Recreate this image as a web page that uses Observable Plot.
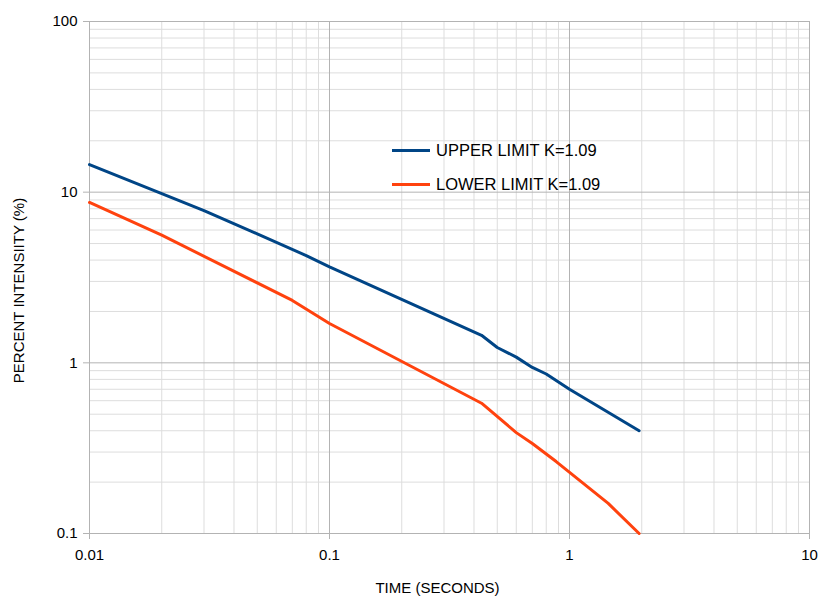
<!DOCTYPE html>
<html>
<head>
<meta charset="utf-8">
<script src="https://cdn.jsdelivr.net/npm/d3@7"></script>
<script src="https://cdn.jsdelivr.net/npm/@observablehq/plot@0.6"></script>
<style>
  body { margin: 0; background: #fff; }
  #wrap { position: relative; width: 818px; height: 599px; font-family: "Liberation Sans", Arial, sans-serif; }
  #legend { position: absolute; left: 392px; top: 140px; font-size: 16.5px; color: #000; }
  #legend .row { display: flex; align-items: center; height: 20px; margin-bottom: 14px; }
  #legend .sw { width: 38px; height: 3px; margin-right: 6px; }
</style>
</head>
<body>
<div id="wrap"></div>
<script>
const seriesNames = ["UPPER LIMIT K=1.09", "LOWER LIMIT K=1.09"];
const seriesColors = ["#004586", "#ff420e"];
const upperTime = [0.01, 0.02, 0.03, 0.05, 0.08, 0.1, 0.43, 0.5, 0.6, 0.7, 0.8, 1.0, 1.95];
const upperPct  = [14.5, 9.8, 7.8, 5.7, 4.25, 3.65, 1.45, 1.23, 1.08, 0.94, 0.86, 0.70, 0.40];
const lowerTime = [0.01, 0.02, 0.07, 0.1, 0.43, 0.6, 0.7, 0.88, 1.45, 1.95];
const lowerPct  = [8.7, 5.6, 2.32, 1.70, 0.58, 0.39, 0.337, 0.264, 0.15, 0.1];
const xTicks = [0.01, 0.1, 1, 10];
const yTicks = [0.1, 1, 10, 100];
const xTitle = "TIME (SECONDS)";
const yTitle = "PERCENT INTENSIITY (%)";

const data = [
  ...upperTime.map((t, i) => ({series: seriesNames[0], t, p: upperPct[i]})),
  ...lowerTime.map((t, i) => ({series: seriesNames[1], t, p: lowerPct[i]}))
];

function minors(ticks) {
  const out = [];
  for (let i = 0; i < ticks.length - 1; i++)
    for (let k = 2; k <= 9; k++) out.push(ticks[i] * k);
  return out;
}
const xMinor = minors(xTicks), yMinor = minors(yTicks);
const font = "Liberation Sans, Arial, sans-serif";

const chart = Plot.plot({
  width: 818,
  height: 599,
  marginLeft: 89,
  marginTop: 21,
  marginRight: 9,
  marginBottom: 66,
  style: {fontFamily: font, background: "#fff", overflow: "visible"},
  x: {type: "log", domain: [0.01, 10]},
  y: {type: "log", domain: [0.1, 100]},
  color: {domain: seriesNames, range: seriesColors},
  marks: [
    Plot.ruleX(xMinor, {stroke: "#dddddd", strokeWidth: 1}),
    Plot.ruleY(yMinor, {stroke: "#dddddd", strokeWidth: 1}),
    Plot.ruleX(xTicks, {stroke: "#b3b3b3", strokeWidth: 1}),
    Plot.ruleY(yTicks, {stroke: "#b3b3b3", strokeWidth: 1}),
    Plot.axisX({ticks: xTicks, tickFormat: d => String(d), tickSize: 6, tickPadding: 10, fontSize: 15, stroke: "#b3b3b3", color: "#000", label: null}),
    Plot.axisY({ticks: yTicks, tickFormat: d => String(d), tickSize: 6, tickPadding: 6, fontSize: 15, stroke: "#b3b3b3", color: "#000", label: null}),
    Plot.line(data, {x: "t", y: "p", stroke: "series", strokeWidth: 3, z: "series"}),
    Plot.text([xTitle], {frameAnchor: "bottom", textAnchor: "middle", dx: -12, dy: 59, fontSize: 15, fill: "#000"}),
    Plot.text([yTitle], {frameAnchor: "left", textAnchor: "middle", dx: -70, dy: 13, rotate: -90, fontSize: 15, fill: "#000"})
  ]
});
const wrap = document.getElementById("wrap");
wrap.appendChild(chart);
const legend = document.createElement("div");
legend.id = "legend";
seriesNames.forEach((n, i) => {
  const row = document.createElement("div");
  row.className = "row";
  const sw = document.createElement("span");
  sw.className = "sw";
  sw.style.background = seriesColors[i];
  const tx = document.createElement("span");
  tx.textContent = n;
  row.appendChild(sw); row.appendChild(tx);
  legend.appendChild(row);
});
wrap.appendChild(legend);
</script>
</body>
</html>
